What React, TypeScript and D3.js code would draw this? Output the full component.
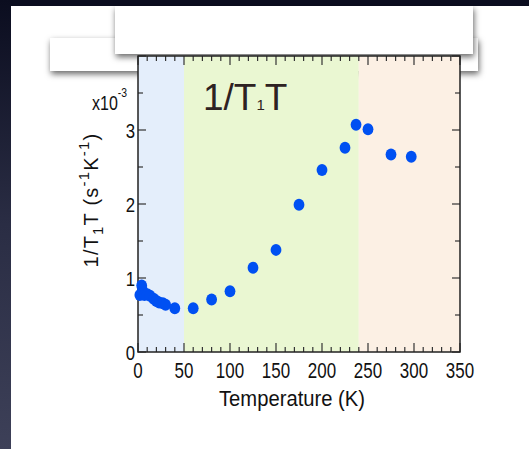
import React from 'react';
import * as d3 from 'd3';

const temps = [2, 4, 5, 7, 10, 13, 17, 20, 23, 27, 30, 40, 60, 80, 100, 125, 150, 175, 200, 225, 237, 250, 275, 297];
const rates = [0.77, 0.9, 0.83, 0.77, 0.78, 0.76, 0.72, 0.69, 0.67, 0.66, 0.64, 0.59, 0.59, 0.71, 0.82, 1.14, 1.38, 1.99, 2.46, 2.76, 3.07, 3.01, 2.67, 2.64];
const xTicks = [0, 50, 100, 150, 200, 250, 300, 350];
const yTicks = [0, 1, 2, 3];
const regionStarts = [0, 50, 240];
const regionEnds = [50, 240, 350];
const regionColors = ['#e4eefb', '#eaf7d2', '#fcf0e4'];

const W = 529;
const H = 449;
const FONT = "'Liberation Sans', Arial, Helvetica, sans-serif";

export default function App() {
  const x = d3.scaleLinear().domain([0, 350]).range([138, 460]);
  const y = d3.scaleLinear().domain([0, 4]).range([352, 56]);
  const [x0, x1] = x.range();
  const [yb, yt] = y.range();
  const xMinor = d3.range(0, 351, 10);
  const yMinor = d3.range(0, 4.01, 0.5);

  return (
    <svg width={W} height={H} style={{ position: 'fixed', left: 0, top: 0, display: 'block' }} fontFamily={FONT}>
      <defs>
        <linearGradient id="bgL" x1="0" y1="0" x2="0" y2="1">
          <stop offset="0" stopColor="#0b0d1f" />
          <stop offset="0.5" stopColor="#2a2d44" />
          <stop offset="1" stopColor="#3d4058" />
        </linearGradient>
        <filter id="sh" x="-20%" y="-50%" width="140%" height="200%">
          <feDropShadow dx="1" dy="3" stdDeviation="3" floodColor="#000" floodOpacity="0.6" />
        </filter>
      </defs>
      <rect x={0} y={0} width={W} height={H} fill="#0b0d1f" />
      <rect x={0} y={0} width={11} height={H} fill="url(#bgL)" />
      <rect x={11} y={6} width={W - 11} height={H - 6} fill="#ffffff" />

      {/* lower masking box */}
      <rect x={50} y={38} width={428} height={33} fill="#fff" filter="url(#sh)" />
      {/* upper masking box shadow */}
      <rect x={115} y={6} width={358} height={48} fill="#fff" filter="url(#sh)" />

      {/* plot background regions */}
      {regionStarts.map((s, i) => (
        <rect key={i} x={x(s)} y={yt} width={x(regionEnds[i]) - x(s)} height={yb - yt} fill={regionColors[i]} />
      ))}

      {/* minor & major ticks */}
      {xMinor.map((t) => {
        const major = t % 50 === 0;
        const L = major ? 9 : 5;
        return (
          <g key={'xt' + t} stroke="#333" strokeWidth={1.2}>
            <line x1={x(t)} x2={x(t)} y1={yb} y2={yb - L} />
            <line x1={x(t)} x2={x(t)} y1={yt} y2={yt + L} />
          </g>
        );
      })}
      {yMinor.map((v) => {
        const major = Math.abs(v - Math.round(v)) < 1e-6;
        const L = major ? 8 : 5;
        return (
          <g key={'yt' + v} stroke="#333" strokeWidth={1.2}>
            <line x1={x0} x2={x0 + L} y1={y(v)} y2={y(v)} />
            <line x1={x1} x2={x1 - L} y1={y(v)} y2={y(v)} />
          </g>
        );
      })}
      <rect x={x0} y={yt} width={x1 - x0} height={yb - yt} fill="none" stroke="#222" strokeWidth={1.5} />

      {/* annotation */}
      <text x={203} y={110} fontSize={37} fill="#2e2222">
        1/T<tspan fontSize={15}>1</tspan>T
      </text>

      {/* data points */}
      {temps.map((t, i) => (
        <ellipse key={'p' + i} cx={x(t)} cy={y(rates[i])} rx={5.4} ry={6} fill="#0050f2" />
      ))}

      {/* x tick labels */}
      {xTicks.map((t) => (
        <text key={'xl' + t} transform={`translate(${x(t)},378) scale(0.77,1)`} textAnchor="middle" fontSize={22} fill="#111">
          {t}
        </text>
      ))}
      {/* y tick labels */}
      {yTicks.map((v) => (
        <text key={'yl' + v} transform={`translate(135,${y(v) + 8}) scale(0.8,1)`} textAnchor="end" fontSize={21} fill="#111">
          {v}
        </text>
      ))}
      <text transform="translate(92,110) scale(0.8,1)" fontSize={20} fill="#111">
        x10<tspan fontSize={13} dy={-13}>-3</tspan>
      </text>

      {/* axis titles */}
      <text transform="translate(292,406) scale(0.92,1)" textAnchor="middle" fontSize={22} fill="#111">
        Temperature (K)
      </text>
      <text transform="translate(98,200) rotate(-90)" textAnchor="middle" fontSize={20} letterSpacing={1.2} fill="#111">
        1/T<tspan fontSize={15} dy={5}>1</tspan>
        <tspan dy={-5}>T (s</tspan>
        <tspan fontSize={15} dy={-9}>-1</tspan>
        <tspan dy={9}>K</tspan>
        <tspan fontSize={15} dy={-9}>-1</tspan>
        <tspan dy={9}>)</tspan>
      </text>

      {/* upper masking box on top */}
      <rect x={115} y={6} width={358} height={48} fill="#fff" />
    </svg>
  );
}
